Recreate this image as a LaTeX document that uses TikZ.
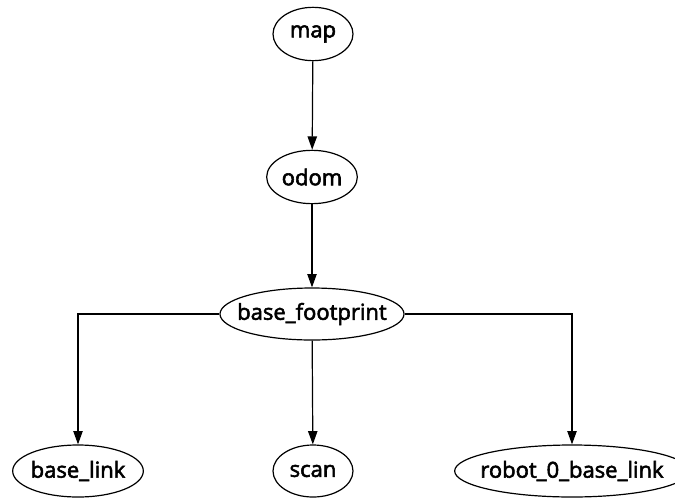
\documentclass[tikz,border=0pt]{standalone}
\usepackage{fontspec}
\setmainfont{Open Sans}[FakeBold=2.5]
\usetikzlibrary{arrows.meta, shapes.geometric}
\newcommand{\frameid}[1]{\makebox[0pt]{#1}}

\begin{document}
\begin{tikzpicture}[
			x=0.75pt, y=-0.75pt,
			frame/.style={ellipse, draw, line width=0.9pt, inner sep=0pt,
				minimum height=39pt, font=\fontsize{16.5}{19}\selectfont},
			arr/.style={-{Triangle[length=10pt, width=7pt]}, line width=0.9pt}
		]
			\useasboundingbox (0,0) rectangle (675,497);
			\node[frame, minimum width=60pt, minimum height=40pt] (map) at (313,34) {\frameid{map}};
			\node[frame, minimum width=68pt, minimum height=40pt] (odom) at (312,177) {\frameid{odom}};
			\node[frame, minimum width=138pt] (foot) at (312,314) {\frameid{base\_footprint}};
			\node[frame, minimum width=98pt] (link) at (78,471) {\frameid{base\_link}};
			\node[frame, minimum width=60pt] (scan) at (313,471) {\frameid{scan}};
			\node[frame, minimum width=176pt] (robot) at (572,471) {\frameid{robot\_0\_base\_link}};

			\draw[arr] (map) -- (odom);
			\draw[arr] (odom) -- (foot);
			\draw[arr] (foot) -- (scan);
			\draw[arr] (foot.west) -| (link.north);
			\draw[arr] (foot.east) -| (robot.north);
		\end{tikzpicture}
\end{document}
